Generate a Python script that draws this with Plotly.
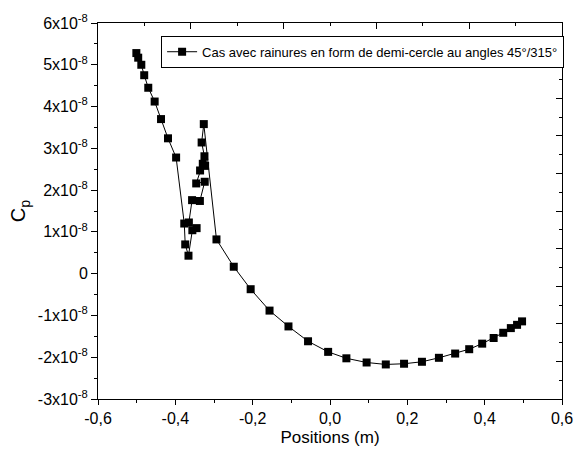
import plotly.graph_objects as go

# Data (x in m, Cp)
positions = [
    -0.5008, -0.496, -0.488, -0.4805, -0.470, -0.4535, -0.437, -0.419, -0.398,
    -0.3769, -0.3744, -0.366, -0.356, -0.345, -0.365, -0.3567, -0.3365, -0.324,
    -0.346, -0.336, -0.329, -0.323, -0.3247, -0.332, -0.3264,
    -0.2936, -0.2489, -0.2052, -0.1564, -0.1074, -0.0568, -0.0048, 0.0424,
    0.0947, 0.1443, 0.1915, 0.2378, 0.2817, 0.3237, 0.360, 0.3936, 0.4232,
    0.448, 0.4677, 0.4838, 0.4967,
]
cp = [
    5.28e-8, 5.17e-8, 5.00e-8, 4.75e-8, 4.45e-8, 4.12e-8, 3.70e-8, 3.24e-8, 2.78e-8,
    1.20e-8, 0.70e-8, 0.43e-8, 1.04e-8, 1.09e-8, 1.225e-8, 1.76e-8, 1.74e-8, 2.20e-8,
    2.16e-8, 2.47e-8, 2.63e-8, 2.58e-8, 2.81e-8, 3.14e-8, 3.58e-8,
    0.82e-8, 0.166e-8, -0.372e-8, -0.884e-8, -1.263e-8, -1.618e-8, -1.872e-8, -2.026e-8,
    -2.126e-8, -2.173e-8, -2.156e-8, -2.109e-8, -2.014e-8, -1.912e-8, -1.808e-8, -1.675e-8, -1.540e-8,
    -1.415e-8, -1.303e-8, -1.225e-8, -1.142e-8,
]
series_name = "Cas avec rainures en form de demi-cercle au angles 45°/315°"

x_tickvals = [-0.6, -0.4, -0.2, 0.0, 0.2, 0.4, 0.6]
x_ticktext = ["-0,6", "-0,4", "-0,2", "0,0", "0,2", "0,4", "0,6"]
y_tickvals = [-3e-8, -2e-8, -1e-8, 0, 1e-8, 2e-8, 3e-8, 4e-8, 5e-8, 6e-8]
y_ticktext = ["-3x10<sup>-8</sup>", "-2x10<sup>-8</sup>", "-1x10<sup>-8</sup>", "0",
              "1x10<sup>-8</sup>", "2x10<sup>-8</sup>", "3x10<sup>-8</sup>",
              "4x10<sup>-8</sup>", "5x10<sup>-8</sup>", "6x10<sup>-8</sup>"]

FONT = "Liberation Sans, Arial, sans-serif"
XR = [-0.6, 0.6]
YR = [-3e-8, 6e-8]

fig = go.Figure()
fig.add_trace(go.Scatter(
    x=positions, y=cp, mode="lines+markers", name=series_name,
    line=dict(color="black", width=1),
    marker=dict(symbol="square", size=8, color="black"),
))
# invisible trace to activate the mirrored top/right axes
fig.add_trace(go.Scatter(x=[XR[0]], y=[YR[0]], xaxis="x2", yaxis="y2",
                         mode="markers", marker=dict(opacity=0),
                         showlegend=False, hoverinfo="skip"))

fig.update_layout(
    width=585, height=461,
    margin=dict(l=98, r=12, t=19, b=62),
    paper_bgcolor="white", plot_bgcolor="white",
    font=dict(family=FONT, color="black", size=16),
    showlegend=True,
    legend=dict(x=0.136, y=0.966, xanchor="left", yanchor="top",
                bordercolor="black", borderwidth=1, bgcolor="white",
                font=dict(family=FONT, size=13), itemwidth=30,
                tracegroupgap=0),
    xaxis=dict(range=XR, tickvals=x_tickvals, ticktext=x_ticktext,
               showgrid=False, zeroline=False, showline=True, linecolor="black",
               linewidth=1, ticks="outside", ticklen=5, tickcolor="black",
               minor=dict(ticks="outside", ticklen=3, dtick=0.1, tick0=-0.6,
                          tickcolor="black", showgrid=False),
               title=dict(text="Positions (m)", font=dict(size=17), standoff=4),
               tickfont=dict(size=16)),
    yaxis=dict(range=YR, tickvals=y_tickvals, ticktext=y_ticktext,
               showgrid=False, zeroline=False, showline=True, linecolor="black",
               linewidth=1, ticks="outside", ticklen=6, tickcolor="black",
               minor=dict(ticks="outside", ticklen=3, dtick=0.5e-8, tick0=0,
                          tickcolor="black", showgrid=False),
               title=dict(text="C<sub>p</sub>", font=dict(size=20), standoff=6),
               tickfont=dict(size=16)),
    xaxis2=dict(range=XR, overlaying="x", side="top", anchor="y",
                showgrid=False, zeroline=False, showline=True, linecolor="black",
                ticks="inside", ticklen=6, tick0=-0.6, dtick=0.24,
                tickcolor="black", showticklabels=False,
                minor=dict(ticks="inside", ticklen=3, dtick=0.12, tick0=-0.6,
                           tickcolor="black")),
    yaxis2=dict(range=YR, overlaying="y", side="right", anchor="x",
                showgrid=False, zeroline=False, showline=True, linecolor="black",
                ticks="inside", ticklen=6, tick0=-3e-8, dtick=0.9e-8,
                tickcolor="black", showticklabels=False,
                minor=dict(ticks="inside", ticklen=3, dtick=0.45e-8, tick0=-3e-8,
                           tickcolor="black")),
)

fig.write_html("out.html", config={"displayModeBar": False},
               post_script="document.body.style.margin='0';document.body.style.overflow='hidden';")
